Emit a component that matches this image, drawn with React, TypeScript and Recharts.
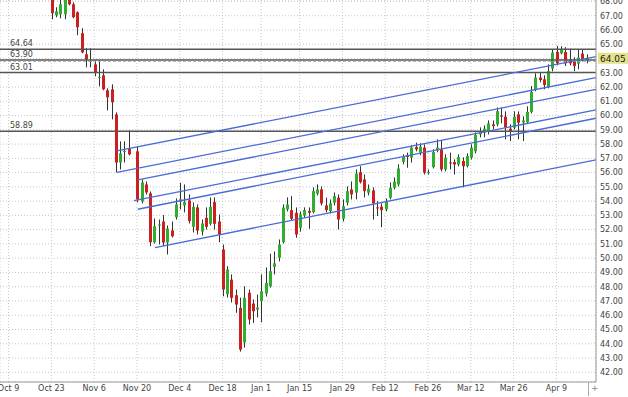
import { Bar, CartesianGrid, ComposedChart, ReferenceLine, XAxis, YAxis } from 'recharts'

// daily OHLC, oldest first
const opens = [
  68.15, 67.03, 67.1, 67.1, 68.15, 67.8, 67.24, 65.77, 64.29, 63.77, 63.59, 62.64, 62.82, 61.77, 61.84, 60.08,
  56.71, 57.45, 57.7, 57.49, 53.98, 55.17, 54.54, 51.12, 52.29, 52.57, 51.1, 51.94, 52.87, 53.96, 53.7, 54.05,
  52.2, 53.56, 51.87, 52.83, 52.41, 53.93, 52.57, 50.61, 47.48, 48.5, 47.4, 46.52, 44.1, 47.57, 46.82, 46.4,
  46.98, 47.52, 48.03, 49.39, 50.03, 51.12, 53.42, 53.37, 53.18, 52.13, 53.0, 53.32, 53.23, 54.52, 54.82, 53.7,
  53.3, 53.89, 54.24, 52.76, 53.89, 54.82, 54.59, 56.03, 55.52, 54.59, 54.75, 53.56, 53.61, 53.42, 54.24, 54.94,
  55.17, 56.74, 57.21, 57.05, 57.79, 57.4, 57.75, 55.96, 56.38, 57.56, 57.63, 56.22, 56.71, 56.74, 56.57, 56.81,
  56.45, 57.04, 57.49, 58.68, 58.8, 58.84, 59.38, 59.38, 60.01, 59.92, 59.08, 59.15, 60.08, 59.52, 59.54, 60.25,
  61.84, 62.66, 62.54, 62.0, 63.29, 64.46, 64.36, 64.46, 63.94, 63.82, 63.64, 64.34, 63.9,
]
const highs = [
  68.15, 67.59, 68.15, 68.15, 68.15, 67.94, 67.31, 66.12, 64.72, 64.72, 63.87, 63.87, 63.24, 61.91, 62.19, 60.22,
  58.19, 58.19, 58.96, 57.84, 55.52, 55.38, 54.68, 52.78, 52.71, 53.02, 52.29, 52.57, 54.19, 55.29, 55.17, 54.47,
  53.91, 53.77, 52.71, 53.56, 54.26, 54.26, 53.07, 50.96, 49.44, 48.86, 47.8, 47.24, 48.03, 47.8, 47.1, 47.45,
  48.86, 49.35, 50.31, 50.47, 51.31, 53.77, 54.26, 54.35, 53.56, 53.28, 53.56, 53.56, 54.96, 55.17, 55.03, 54.24,
  54.12, 54.61, 54.47, 54.12, 55.03, 55.38, 56.22, 56.45, 55.87, 55.17, 54.96, 54.0, 53.84, 54.19, 55.31, 55.66,
  56.58, 57.28, 57.4, 57.91, 58.1, 58.05, 57.98, 56.22, 57.63, 58.33, 58.28, 57.28, 57.4, 56.92, 57.28, 57.07,
  57.35, 57.98, 58.82, 59.17, 59.31, 59.66, 59.66, 60.57, 60.57, 60.29, 59.38, 60.29, 60.29, 59.94, 60.65, 62.07,
  62.96, 63.01, 62.82, 63.59, 64.65, 64.88, 64.86, 64.79, 64.69, 64.08, 64.65, 64.65, 64.29,
]
const lows = [
  66.75, 66.89, 66.82, 66.75, 67.73, 66.82, 65.63, 64.36, 63.38, 63.38, 62.75, 62.05, 61.77, 60.36, 59.73, 56.01,
  56.22, 56.71, 57.21, 53.91, 53.84, 54.47, 50.84, 51.03, 50.96, 50.84, 50.26, 51.45, 52.71, 53.42, 53.21, 52.43,
  51.8, 51.66, 51.59, 52.01, 52.29, 52.01, 51.12, 47.33, 47.24, 46.89, 46.17, 43.45, 43.73, 45.35, 45.46, 45.84,
  45.51, 47.31, 47.94, 48.86, 49.77, 51.03, 53.28, 52.64, 51.43, 51.87, 52.85, 52.06, 53.14, 54.4, 53.7, 53.21,
  53.14, 53.7, 52.01, 52.57, 53.7, 54.12, 54.12, 55.24, 54.26, 54.4, 52.71, 52.95, 52.17, 53.28, 54.12, 54.82,
  55.03, 56.58, 56.34, 56.7, 57.49, 57.21, 55.87, 55.87, 56.29, 57.42, 56.08, 56.08, 56.22, 55.87, 56.43, 54.96,
  56.36, 56.92, 57.35, 58.47, 58.47, 58.68, 59.03, 59.24, 59.45, 58.33, 58.21, 59.03, 58.33, 58.21, 59.45, 60.15,
  61.7, 62.33, 61.84, 61.91, 63.1, 63.52, 64.29, 63.47, 63.52, 63.12, 63.24, 63.8, 63.66,
]
const closes = [
  67.17, 67.31, 67.8, 68.1, 67.8, 66.89, 66.19, 64.43, 63.94, 63.84, 63.03, 62.71, 61.84, 61.28, 60.93, 56.71,
  57.35, 57.52, 57.28, 54.12, 55.31, 54.61, 51.12, 52.24, 52.36, 51.1, 52.08, 51.54, 53.77, 54.12, 53.93, 52.6,
  53.6, 51.94, 52.43, 52.2, 53.6, 52.41, 51.66, 47.8, 49.21, 47.22, 46.75, 43.59, 47.22, 45.7, 46.28, 46.54,
  47.68, 48.27, 49.09, 49.63, 50.96, 53.54, 53.77, 52.76, 51.66, 53.07, 53.37, 53.18, 54.7, 54.82, 53.84, 53.37,
  53.84, 54.35, 52.71, 53.65, 54.7, 54.47, 55.92, 55.33, 54.7, 54.87, 53.84, 53.52, 53.37, 54.0, 54.94, 55.36,
  56.29, 57.09, 57.1, 57.75, 57.63, 57.82, 56.0, 56.03, 57.44, 57.75, 56.22, 57.04, 56.68, 56.57, 57.09, 56.45,
  57.16, 57.75, 58.64, 58.91, 59.08, 59.45, 59.26, 60.31, 59.92, 59.15, 58.89, 59.92, 59.5, 59.66, 60.25, 61.65,
  62.66, 62.49, 62.14, 63.12, 64.41, 63.66, 64.65, 63.66, 63.66, 63.47, 64.06, 63.94, 64.05,
]

// x positions are trading-day slots; one session is missing after the 19th candle
const firstSlot = 12
const missingAfter = 19

const dateTicks = [2, 12, 22, 32, 42, 52, 61, 70, 80, 90, 100, 110, 120, 130]
const dateLabels = ['Oct 9', 'Oct 23', 'Nov 6', 'Nov 20', 'Dec 4', 'Dec 18', 'Jan 1', 'Jan 15', 'Jan 29', 'Feb 12', 'Feb 26', 'Mar 12', 'Mar 26', 'Apr 9']
const priceTicks = [42, 43, 44, 45, 46, 47, 48, 49, 50, 51, 52, 53, 54, 55, 56, 57, 58, 59, 60, 61, 62, 63, 64, 65, 66, 67, 68]

const levels = [64.64, 63.9, 63.01, 58.89]
const lastPrice = 64.05
const dashedLevel = 63.8

// parallel trend channel lines: [slot, price] start and end
const trendStart = [[27.3, 57.52], [27.3, 56.01], [32.2, 55.49], [31.3, 54.04], [32.2, 53.43], [36.2, 50.74]]
const trendEnd = [[139.25, 64.13], [139.25, 62.66], [139.25, 61.84], [139.25, 60.39], [139.25, 59.81], [139.25, 56.89]]

const data = opens.map((open, i) => ({
  slot: firstSlot + i + (i >= missingAfter ? 1 : 0),
  range: [lows[i], highs[i]],
  open,
  close: closes[i],
  high: highs[i],
  low: lows[i],
}))

const FONT = '"DejaVu Sans", Verdana, sans-serif'
const UP = '#2fae2f'
const DOWN = '#cc1f1f'

function Candle(props: any) {
  const { x, y, width, height, payload } = props
  if (x == null || y == null) return null
  const { open, close, high, low } = payload
  const top = Math.min(y, y + height)
  const h = Math.abs(height)
  const ppu = h / (high - low || 1)
  const yOf = (v: number) => top + (high - v) * ppu
  const cx = Math.round(x + width / 2) + 0.5
  const bodyTop = yOf(Math.max(open, close))
  const bodyH = Math.max(1, Math.abs(yOf(open) - yOf(close)))
  const up = close >= open
  return (
    <g>
      <line x1={cx} x2={cx} y1={top} y2={top + h} stroke="#333" strokeWidth={1} />
      <rect x={cx - 1.5} y={bodyTop} width={3} height={bodyH} fill={up ? UP : DOWN} />
    </g>
  )
}

function LevelLabel(props: any) {
  const vb = props.viewBox
  return (
    <text x={vb.x + 10} y={vb.y - 3} fontSize={8} fill="#444" fontFamily={FONT}>
      {props.value}
    </text>
  )
}

function PriceTag(props: any) {
  const vb = props.viewBox
  const left = vb.x + vb.width + 2
  return (
    <g>
      <rect x={left} y={vb.y - 5} width={30} height={11} fill="#e3e38c" />
      <text x={left + 2} y={vb.y + 4} fontSize={9} fill="#222" fontFamily={FONT}>
        {lastPrice.toFixed(2)}
      </text>
    </g>
  )
}

export default function App() {
  return (
    <div style={{ position: 'absolute', left: 0, top: 0, width: 628, height: 397, background: '#fff' }}>
      <ComposedChart width={628} height={397} data={data} margin={{ top: 0, right: 0, bottom: 0, left: 0 }}>
        <CartesianGrid stroke="#c8c8c8" strokeDasharray="1 2" />
        <XAxis
          dataKey="slot"
          type="number"
          domain={[0, 139.25]}
          ticks={dateTicks}
          tickFormatter={(v: number) => dateLabels[dateTicks.indexOf(v)]}
          height={15}
          tickLine={false}
          tickSize={0}
          tickMargin={3}
          interval={0}
          stroke="#999"
          tick={{ fontSize: 8, fill: '#444', fontFamily: FONT }}
        />
        <YAxis
          orientation="right"
          type="number"
          domain={[41.32, 68.1]}
          allowDataOverflow
          ticks={priceTicks}
          tickFormatter={(v: number) => (Math.round(v) === Math.round(lastPrice) ? '' : v.toFixed(2))}
          width={32}
          tickLine={false}
          tickSize={0}
          tickMargin={4}
          interval={0}
          stroke="#999"
          tick={{ fontSize: 8, fill: '#444', fontFamily: FONT, textAnchor: 'start' }}
        />
        {levels.map((v) => (
          <ReferenceLine key={v} y={v} stroke="#555" strokeWidth={1.5} label={<LevelLabel value={v.toFixed(2)} />} />
        ))}
        <ReferenceLine y={dashedLevel} stroke="#aaa" strokeDasharray="3 2" />
        <ReferenceLine y={lastPrice} stroke="none" label={<PriceTag />} />
        {trendStart.map((s, i) => (
          <ReferenceLine
            key={i}
            segment={[{ x: s[0], y: s[1] }, { x: trendEnd[i][0], y: trendEnd[i][1] }]}
            stroke="#4a6bd6"
            strokeWidth={1.3}
            ifOverflow="visible"
          />
        ))}
        <Bar dataKey="range" barSize={3} shape={<Candle />} isAnimationActive={false} />
      </ComposedChart>
      <div style={{ position: 'absolute', left: 588, top: 382, width: 1, height: 14, background: '#aaa' }} />
      <div style={{ position: 'absolute', left: 591, top: 383, fontSize: 9, color: '#888', fontFamily: FONT }}>+</div>
    </div>
  )
}
